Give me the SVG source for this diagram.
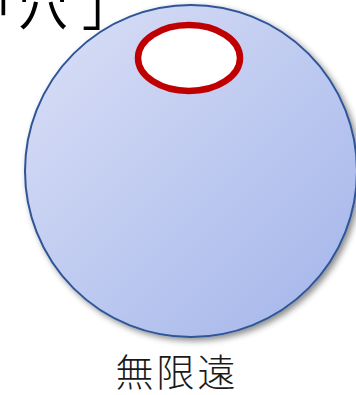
<svg xmlns="http://www.w3.org/2000/svg" width="356" height="395" viewBox="0 0 356 395">
  <style>
    .lbl { font-family: "Noto Sans CJK JP", "Noto Sans CJK SC", sans-serif; fill: #1a1a1a; font-weight: 300; }
    .ttl { font-family: "Noto Sans CJK JP", "Noto Sans CJK SC", sans-serif; fill: #000; font-weight: 400; }
  </style>
  <defs>
    <linearGradient id="g" x1="0" y1="0" x2="1" y2="1">
      <stop offset="0" stop-color="#dbe0f6"/>
      <stop offset="1" stop-color="#a2b4ea"/>
    </linearGradient>
    <filter id="sh" x="-20%" y="-20%" width="140%" height="140%">
      <feDropShadow dx="3" dy="3" stdDeviation="3" flood-color="#000" flood-opacity="0.45"/>
    </filter>
  </defs>
  <rect width="356" height="395" fill="#fff"/>
  <g id="title">
    <text class="ttl" y="25" font-size="50"><tspan x="-31">「</tspan><tspan x="18">穴</tspan><tspan x="82">」</tspan></text>
  </g>
  <g id="sphere">
    <circle cx="191" cy="171" r="166" fill="url(#g)" stroke="#2f5597" stroke-width="2" filter="url(#sh)"/>
  </g>
  <g id="hole">
    <ellipse cx="189" cy="58" rx="51" ry="33" fill="#fff" stroke="#c00000" stroke-width="6.5"/>
  </g>
  <g id="label">
    <text class="lbl" x="177" y="386" font-size="38" letter-spacing="3" text-anchor="middle">無限遠</text>
  </g>
  <g id="connectors"/>
</svg>
